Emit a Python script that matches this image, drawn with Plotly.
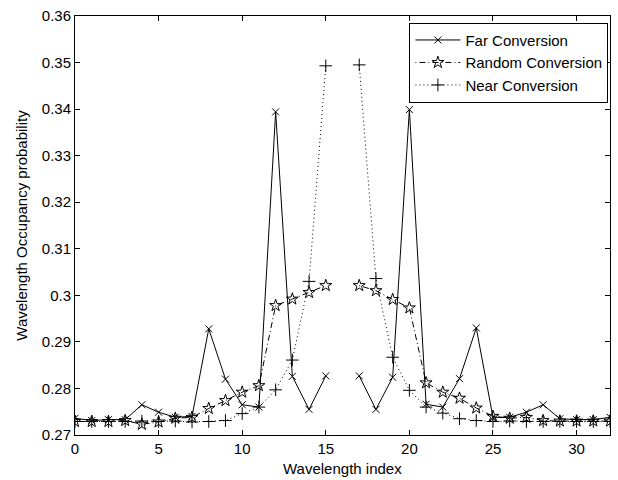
import plotly.graph_objects as go

wavelength_index = list(range(33))

far_conversion = [0.2736, 0.2731, 0.2733, 0.2733, 0.2765, 0.2749, 0.2738, 0.2740,
                  0.2928, 0.2820, 0.2765, 0.2760, 0.3394, 0.2826, 0.2755, 0.2827,
                  None,
                  0.2827, 0.2755, 0.2824, 0.3399, 0.2766, 0.2760, 0.2821, 0.2930,
                  0.2738, 0.2738, 0.2749, 0.2765, 0.2735, 0.2733, 0.2733, 0.2738]

random_conversion = [0.2729, 0.2729, 0.2729, 0.2731, 0.2723, 0.2728, 0.2736, 0.2738,
                     0.2757, 0.2774, 0.2792, 0.2806, 0.2978, 0.2992, 0.3006, 0.3021,
                     None,
                     0.3021, 0.3010, 0.2991, 0.2973, 0.2812, 0.2792, 0.2779, 0.2758,
                     0.2740, 0.2736, 0.2738, 0.2731, 0.2730, 0.2730, 0.2730, 0.2730]

near_conversion = [0.2729, 0.2729, 0.2729, 0.2729, 0.2730, 0.2729, 0.2730, 0.2728,
                   0.2729, 0.2731, 0.2746, 0.2760, 0.2797, 0.2861, 0.3030, 0.3493,
                   None,
                   0.3495, 0.3036, 0.2867, 0.2796, 0.2760, 0.2747, 0.2735, 0.2731,
                   0.2729, 0.2730, 0.2729, 0.2729, 0.2729, 0.2729, 0.2729, 0.2729]

x_ticks = [0, 5, 10, 15, 20, 25, 30]
y_ticks = [0.27, 0.28, 0.29, 0.30, 0.31, 0.32, 0.33, 0.34, 0.35, 0.36]
y_tick_labels = ["0.27", "0.28", "0.29", "0.3", "0.31", "0.32", "0.33", "0.34", "0.35", "0.36"]

FONT = "Liberation Sans, Arial, Helvetica, sans-serif"

fig = go.Figure()
fig.add_trace(go.Scatter(
    x=wavelength_index, y=far_conversion, name="Far Conversion", mode="lines+markers",
    line=dict(color="black", width=1),
    marker=dict(symbol="x-thin-open", size=7, color="black", line=dict(color="black", width=1)),
))
fig.add_trace(go.Scatter(
    x=wavelength_index, y=random_conversion, name="Random Conversion", mode="lines+markers",
    line=dict(color="black", width=1, dash="1px,3px,6px,3px"),
    marker=dict(symbol="star-open", size=9, color="black", line=dict(color="black", width=1)),
))
fig.add_trace(go.Scatter(
    x=wavelength_index, y=near_conversion, name="Near Conversion", mode="lines+markers",
    line=dict(color="black", width=1, dash="1px,3px"),
    marker=dict(symbol="cross-thin-open", size=9, color="black", line=dict(color="black", width=1)),
))

fig.update_layout(
    width=618, height=480,
    margin=dict(l=75, r=7, t=12, b=45),
    paper_bgcolor="white", plot_bgcolor="white",
    font=dict(family=FONT, size=15, color="black"),
    showlegend=True,
    legend=dict(
        x=0.997, y=0.984, xanchor="right", yanchor="top",
        bgcolor="white", bordercolor="black", borderwidth=1,
        font=dict(family=FONT, size=15, color="black"),
        tracegroupgap=0, itemwidth=45,
    ),
    annotations=[dict(
        text="Wavelength index", xref="paper", yref="paper", x=0.5, y=-0.079,
        xanchor="center", yanchor="middle", showarrow=False,
        font=dict(family=FONT, size=15, color="black"),
    )],
)
fig.update_xaxes(
    range=[0, 32], tickvals=x_ticks, ticks="inside", ticklen=5, tickcolor="black",
    showline=True, linecolor="black", linewidth=1, mirror="allticks",
    showgrid=False, zeroline=False,
    tickfont=dict(size=15),
)
fig.update_yaxes(
    range=[0.27, 0.36], tickvals=y_ticks, ticktext=y_tick_labels,
    ticks="inside", ticklen=5, tickcolor="black",
    showline=True, linecolor="black", linewidth=1, mirror="allticks",
    showgrid=False, zeroline=False,
    title=dict(text="Wavelength Occupancy probability", standoff=10, font=dict(size=15)),
    tickfont=dict(size=15),
)

fig.write_html(
    "out.html",
    config={"displayModeBar": False},
    post_script="document.body.style.margin='0';document.body.style.overflow='hidden';",
)
